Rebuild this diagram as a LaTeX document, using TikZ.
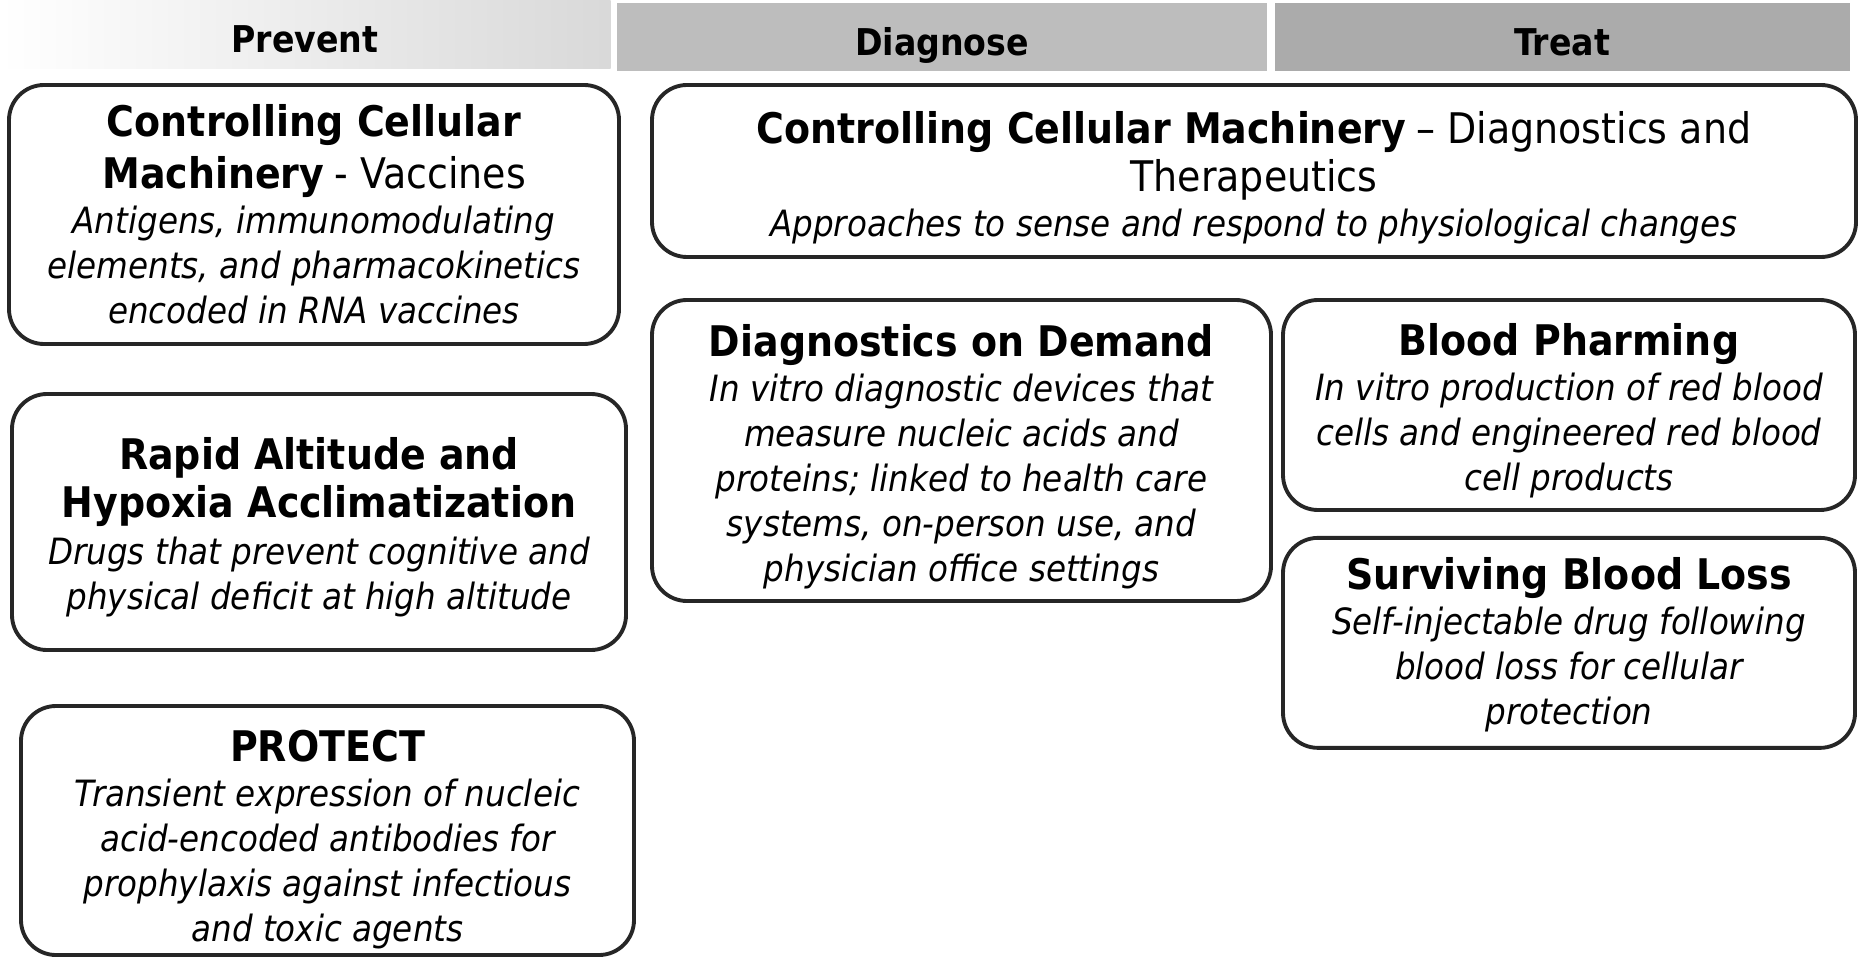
\documentclass[tikz,border=0pt]{standalone}
\usepackage{fontspec}
\setmainfont{DejaVu Sans Condensed}
\usetikzlibrary{positioning}
\newcommand{\ttl}{\fontsize{12}{14.5}\selectfont\bfseries}
\newcommand{\txt}{\fontsize{10.3}{12.8}\selectfont\itshape}
\newcommand{\lift}[1]{\rule{0pt}{#1}}

\begin{document}
\begin{tikzpicture}[phase/.style={minimum height=0.68cm, inner sep=0pt, text height=10.4pt, text depth=0pt, font=\fontsize{10.5}{12}\selectfont\bfseries},
	area/.style={draw=black!85, line width=1.1pt, rounded corners=0.35cm, align=center, inner sep=0pt, font=\fontsize{10.3}{12.8}\selectfont}]
	\useasboundingbox (0,0) rectangle (18.6,-9.59);
	% phase headers
	\node[phase, minimum width=6.11cm, left color=white, right color=gray!30] (prevent) at (3.05,-0.345) {Prevent};
	\node[phase, minimum width=6.5cm, fill=gray!52] (diagnose) at (9.42,-0.37) {Diagnose};
	\node[phase, minimum width=5.75cm, fill=gray!66] (treat) at (15.62,-0.37) {Treat};
	% prevent column
	\node[area, minimum width=6.1cm, minimum height=2.59cm] (vaccines) at (3.14,-2.145)
		{{\ttl Controlling Cellular}\\[2pt]{\ttl Machinery} {\fontsize{12}{14.5}\selectfont - Vaccines}\\{\txt Antigens, immunomodulating}\\{\txt elements, and pharmacokinetics}\\{\txt encoded in RNA vaccines}};
	\node[area, minimum width=6.14cm, minimum height=2.56cm] (altitude) at (3.19,-5.22)
		{{\ttl\lift{12.1pt}Rapid Altitude and}\\[1pt]{\ttl Hypoxia Acclimatization}\\[0.5pt]{\txt Drugs that prevent cognitive and}\\{\txt physical deficit at high altitude}};
	\node[area, minimum width=6.13cm, minimum height=2.49cm] (protect) at (3.275,-8.305)
		{{\ttl\lift{14.1pt}PROTECT}\\{\txt Transient expression of nucleic}\\{\txt acid-encoded antibodies for}\\{\txt prophylaxis against infectious}\\{\txt and toxic agents}};
	% diagnose and treat columns
	\node[area, minimum width=12.04cm, minimum height=1.72cm] (machinery) at (12.54,-1.71)
		{{\ttl\lift{13pt}Controlling Cellular Machinery} {\fontsize{12}{14.5}\selectfont -- Diagnostics and}\\[1pt]{\fontsize{12}{14.5}\selectfont Therapeutics}\\{\txt Approaches to sense and respond to physiological changes}};
	\node[area, minimum width=6.19cm, minimum height=3.01cm] (demand) at (9.615,-4.505)
		{{\ttl\lift{12.5pt}Diagnostics on Demand}\\{\txt In vitro diagnostic devices that}\\{\txt measure nucleic acids and}\\{\txt proteins; linked to health care}\\{\txt systems, on-person use, and}\\{\txt physician office settings}};
	\node[area, minimum width=5.72cm, minimum height=2.1cm] (pharming) at (15.69,-4.05)
		{{\ttl\lift{12.5pt}Blood Pharming}\\{\txt In vitro production of red blood}\\{\txt cells and engineered red blood}\\{\txt cell products}};
	\node[area, minimum width=5.72cm, minimum height=2.1cm] (bloodloss) [below=0.24cm of pharming]
		{{\ttl\lift{10.1pt}Surviving Blood Loss}\\{\txt Self-injectable drug following}\\{\txt blood loss for cellular}\\{\txt protection}};
\end{tikzpicture}
\end{document}
